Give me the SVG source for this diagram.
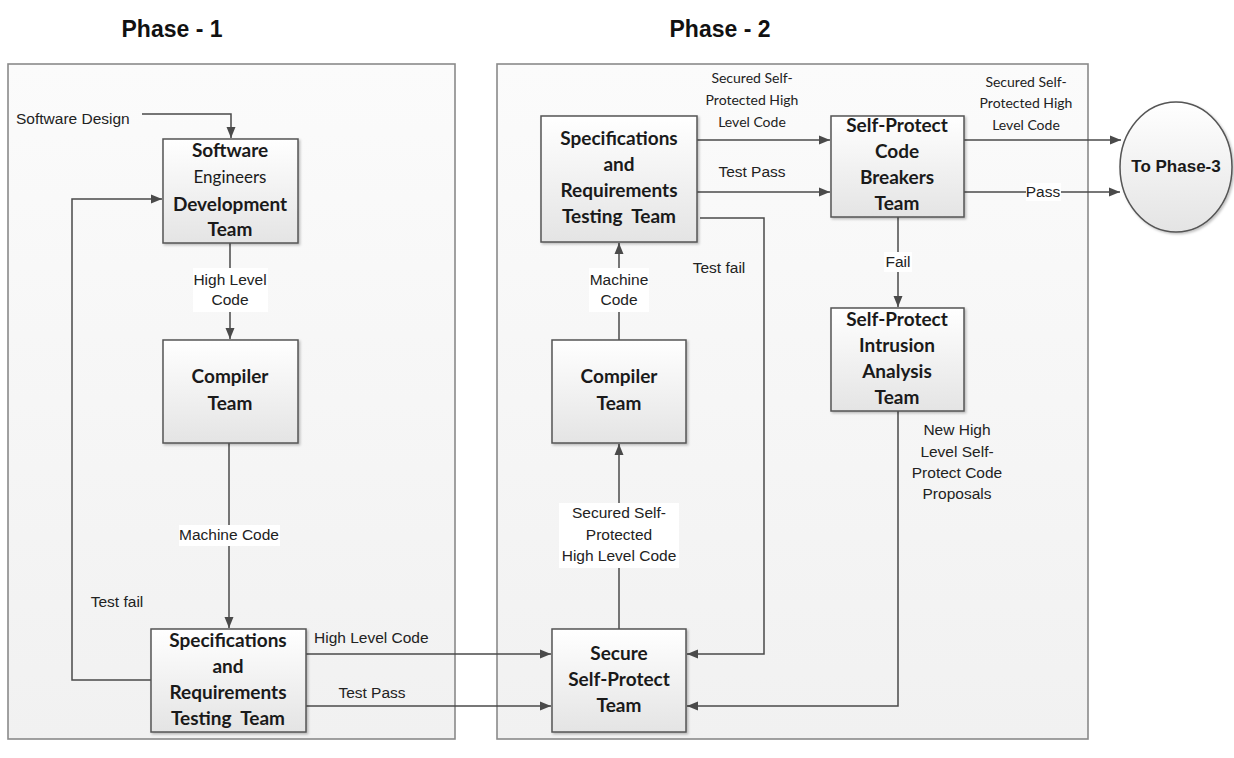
<svg xmlns="http://www.w3.org/2000/svg" width="1234" height="758" viewBox="0 0 1234 758">
<defs>
<linearGradient id="frameG" x1="0" y1="0" x2="0" y2="1"><stop offset="0" stop-color="#fbfbfb"/><stop offset="1" stop-color="#f1f1f1"/></linearGradient>
<linearGradient id="boxG" x1="0" y1="0" x2="0" y2="1"><stop offset="0" stop-color="#ffffff"/><stop offset="1" stop-color="#e4e4e4"/></linearGradient>
<marker id="arr" markerUnits="userSpaceOnUse" markerWidth="12" markerHeight="10" refX="11" refY="5" orient="auto"><path d="M0,0.5 L11,5 L0,9.5 Z" fill="#4a4a4a"/></marker>
<filter id="sh" x="-10%" y="-10%" width="130%" height="130%"><feDropShadow dx="1.5" dy="1.5" stdDeviation="1" flood-color="#000" flood-opacity="0.25"/></filter>
</defs>
<style>
.frame{fill:url(#frameG);stroke:#8a8a8a;stroke-width:1.6}
.box{fill:url(#boxG);stroke:#555;stroke-width:1.5;filter:url(#sh)}
.nt{font-family:Lato,"Open Sans",sans-serif;font-weight:bold;font-size:19px;fill:#1a1a1a;text-anchor:middle}
.nr{font-family:Lato,"Open Sans",sans-serif;font-size:17px;fill:#1a1a1a;text-anchor:middle}
.lb{font-family:"Liberation Sans",Arial,sans-serif;font-size:15.5px;fill:#222}
.lc{font-family:"Liberation Sans",Arial,sans-serif;font-size:15.5px;fill:#222;text-anchor:middle}
.ls{font-family:Lato,"Open Sans",sans-serif;font-size:14px;fill:#222;text-anchor:middle}
.ph{font-family:"Liberation Sans",Arial,sans-serif;font-weight:bold;font-size:23px;fill:#111;text-anchor:middle}
.ln{fill:none;stroke:#4a4a4a;stroke-width:1.5}
.wb{fill:#fff}
</style>
<rect width="1234" height="758" fill="#fff"/>
<text class="ph" x="172" y="37">Phase - 1</text>
<text class="ph" x="720" y="37">Phase - 2</text>
<rect class="frame" x="8" y="64" width="447" height="675"/>
<rect class="frame" x="497" y="64" width="591" height="675"/>

<g id="connectors">
<path class="ln" d="M142,114 H231 V138" marker-end="url(#arr)"/>
<path class="ln" d="M230,243 V339" marker-end="url(#arr)"/>
<path class="ln" d="M229,443 V628" marker-end="url(#arr)"/>
<path class="ln" d="M151,680 H72 V199 H162" marker-end="url(#arr)"/>
<path class="ln" d="M306,654 H551" marker-end="url(#arr)"/>
<path class="ln" d="M306,706 H551" marker-end="url(#arr)"/>
<path class="ln" d="M619,629 V444" marker-end="url(#arr)"/>
<path class="ln" d="M619,340 V243" marker-end="url(#arr)"/>
<path class="ln" d="M700,218 H764 V654 H687" marker-end="url(#arr)"/>
<path class="ln" d="M697,140 H830" marker-end="url(#arr)"/>
<path class="ln" d="M697,192 H830" marker-end="url(#arr)"/>
<path class="ln" d="M898,217 V307" marker-end="url(#arr)"/>
<path class="ln" d="M898,411 V706 H687" marker-end="url(#arr)"/>
<path class="ln" d="M964,140 H1121" marker-end="url(#arr)"/>
<path class="ln" d="M964,192 H1120" marker-end="url(#arr)"/>
<text class="lb" x="16" y="124">Software Design</text>
<rect class="wb" x="193" y="268" width="75" height="44"/>
<text class="lc" x="230" y="285">High Level</text>
<text class="lc" x="230" y="305">Code</text>
<rect class="wb" x="179" y="525" width="101" height="21"/>
<text class="lc" x="229" y="540">Machine Code</text>
<text class="lc" x="117" y="607">Test fail</text>
<text class="lb" x="314" y="643">High Level Code</text>
<text class="lc" x="372" y="698">Test Pass</text>
<rect class="wb" x="559" y="503" width="120" height="65"/>
<text class="lc" x="619" y="518">Secured Self-</text>
<text class="lc" x="619" y="540">Protected</text>
<text class="lc" x="619" y="561">High Level Code</text>
<rect class="wb" x="589" y="268" width="60" height="44"/>
<text class="lc" x="619" y="285">Machine</text>
<text class="lc" x="619" y="305">Code</text>
<text class="lc" x="719" y="273">Test fail</text>
<text class="ls" x="752" y="83">Secured Self-</text>
<text class="ls" x="752" y="105">Protected High</text>
<text class="ls" x="752" y="127">Level Code</text>
<text class="lc" x="752" y="177">Test Pass</text>
<rect class="wb" x="884" y="252" width="28" height="20"/>
<text class="lc" x="898" y="267">Fail</text>
<text class="lc" x="957" y="435">New High</text>
<text class="lc" x="957" y="457">Level Self-</text>
<text class="lc" x="957" y="478">Protect Code</text>
<text class="lc" x="957" y="499">Proposals</text>
<text class="ls" x="1026" y="87">Secured Self-</text>
<text class="ls" x="1026" y="108">Protected High</text>
<text class="ls" x="1026" y="130">Level Code</text>
<rect class="wb" x="1026" y="183" width="35" height="18"/>
<text class="lc" x="1043" y="197">Pass</text>
</g>

<g id="n-dev">
<rect class="box" x="163" y="139" width="135" height="104"/>
<text class="nt" x="230" y="157">Software</text>
<text class="nr" x="230" y="183">Engineers</text>
<text class="nt" x="230" y="211">Development</text>
<text class="nt" x="230" y="236">Team</text>
</g>
<g id="n-comp1">
<rect class="box" x="163" y="340" width="135" height="103"/>
<text class="nt" x="230" y="383">Compiler</text>
<text class="nt" x="230" y="410">Team</text>
</g>
<g id="n-spec1">
<rect class="box" x="151" y="629" width="155" height="103"/>
<text class="nt" x="228" y="647">Specifications</text>
<text class="nt" x="228" y="673">and</text>
<text class="nt" x="228" y="699">Requirements</text>
<text class="nt" x="228" y="725" xml:space="preserve">Testing  Team</text>
</g>
<g id="n-secure">
<rect class="box" x="552" y="629" width="134" height="103"/>
<text class="nt" x="619" y="660">Secure</text>
<text class="nt" x="619" y="686">Self-Protect</text>
<text class="nt" x="619" y="712">Team</text>
</g>
<g id="n-comp2">
<rect class="box" x="552" y="340" width="134" height="103"/>
<text class="nt" x="619" y="383">Compiler</text>
<text class="nt" x="619" y="410">Team</text>
</g>
<g id="n-spec2">
<rect class="box" x="541" y="116" width="156" height="126"/>
<text class="nt" x="619" y="145">Specifications</text>
<text class="nt" x="619" y="171">and</text>
<text class="nt" x="619" y="197">Requirements</text>
<text class="nt" x="619" y="223" xml:space="preserve">Testing  Team</text>
</g>
<g id="n-breakers">
<rect class="box" x="831" y="116" width="133" height="101"/>
<text class="nt" x="897" y="132">Self-Protect</text>
<text class="nt" x="897" y="158">Code</text>
<text class="nt" x="897" y="184">Breakers</text>
<text class="nt" x="897" y="210">Team</text>
</g>
<g id="n-intrusion">
<rect class="box" x="831" y="308" width="133" height="103"/>
<text class="nt" x="897" y="326">Self-Protect</text>
<text class="nt" x="897" y="352">Intrusion</text>
<text class="nt" x="897" y="378">Analysis</text>
<text class="nt" x="897" y="404">Team</text>
</g>
<g id="n-phase3">
<ellipse class="box" cx="1176" cy="167" rx="56" ry="65"/>
<text x="1176" y="172" font-family="Liberation Sans, Arial, sans-serif" font-weight="bold" font-size="17" fill="#1a1a1a" text-anchor="middle">To Phase-3</text>
</g>
</svg>
